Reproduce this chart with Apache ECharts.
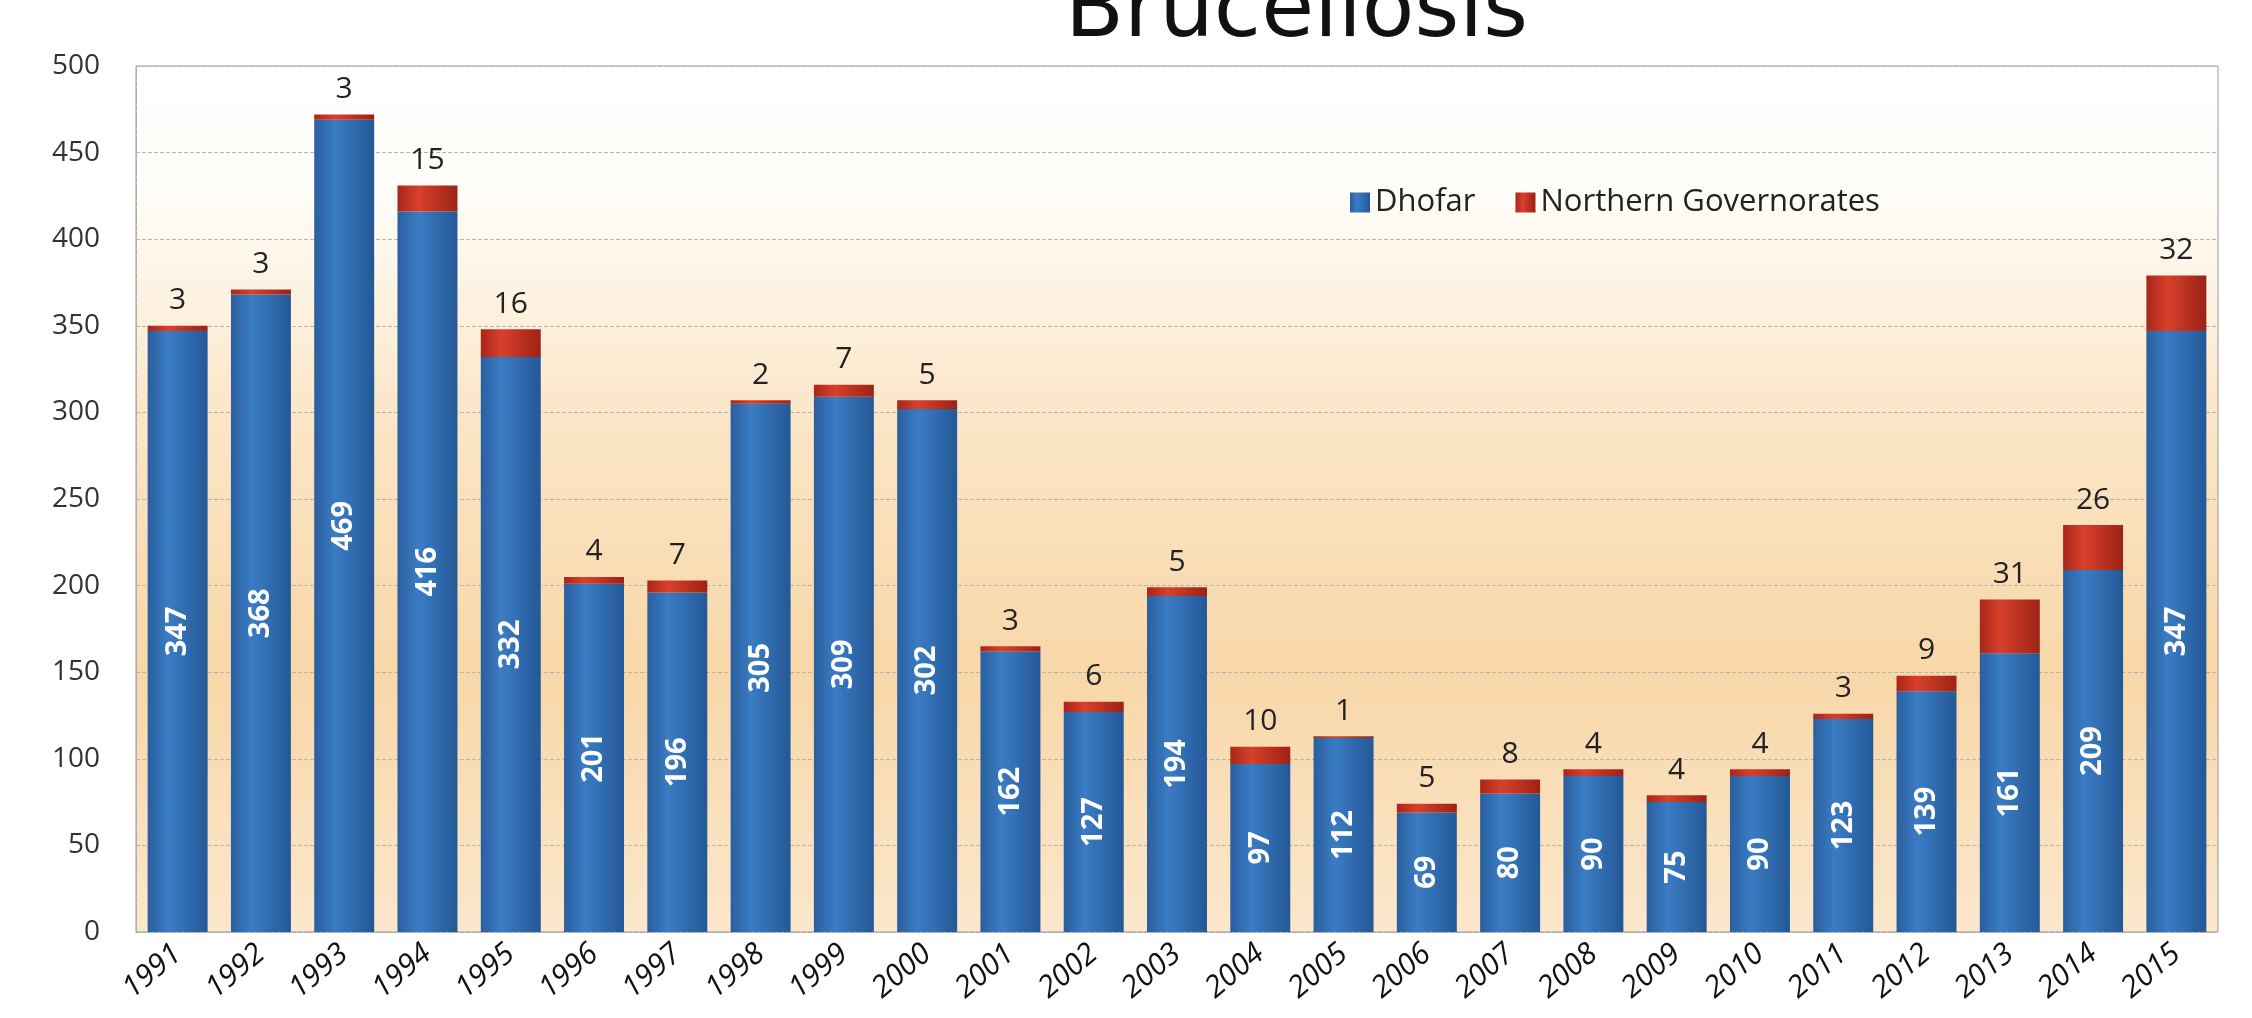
<!DOCTYPE html>
<html>
<head>
<meta charset="utf-8">
<title>Brucellosis</title>
<script src="https://cdn.jsdelivr.net/npm/echarts@6/dist/echarts.min.js"></script>
<style>
  html, body { margin: 0; padding: 0; background: #fff; }
  #main { width: 2252px; height: 1018px; }
</style>
</head>
<body>
<div id="main"></div>
<script>
// data
var years = ['1991','1992','1993','1994','1995','1996','1997','1998','1999','2000','2001','2002','2003',
             '2004','2005','2006','2007','2008','2009','2010','2011','2012','2013','2014','2015'];
var dhofar = [347, 368, 469, 416, 332, 201, 196, 305, 309, 302, 162, 127, 194,
              97, 112, 69, 80, 90, 75, 90, 123, 139, 161, 209, 347];
var northern = [3, 3, 3, 15, 16, 4, 7, 2, 7, 5, 3, 6, 5,
                10, 1, 5, 8, 4, 4, 4, 3, 9, 31, 26, 32];
var yTicks = [0, 50, 100, 150, 200, 250, 300, 350, 400, 450, 500];

var myChart = echarts.init(document.getElementById('main'));

var blue = new echarts.graphic.LinearGradient(0, 0, 1, 0, [
    {offset: 0, color: '#2a5f9e'},
    {offset: 0.35, color: '#3a7cc4'},
    {offset: 1, color: '#245896'}
]);
var red = new echarts.graphic.LinearGradient(0, 0, 1, 0, [
    {offset: 0, color: '#a8261a'},
    {offset: 0.35, color: '#d8402a'},
    {offset: 1, color: '#9c2216'}
]);

var option = {
    backgroundColor: '#ffffff',
    textStyle: { fontFamily: 'Open Sans, DejaVu Sans, sans-serif' },
    title: {
        text: 'Brucellosis',
        left: 1060,
        top: -34,
        textStyle: { fontSize: 86, fontWeight: 'normal', color: '#111', fontFamily: 'DejaVu Sans' }
    },
    legend: {
        data: ['Dhofar', 'Northern Governorates'],
        left: 1345,
        top: 182,
        itemWidth: 20,
        itemHeight: 20,
        itemGap: 40,
        icon: 'rect',
        textStyle: { fontSize: 31, color: '#222', fontFamily: 'Open Sans' }
    },
    grid: {
        left: 136,
        right: 34,
        top: 66,
        bottom: 86,
        show: true,
        borderColor: '#9a9a9a',
        borderWidth: 1,
        backgroundColor: new echarts.graphic.LinearGradient(0, 0, 0, 1, [
            {offset: 0, color: '#ffffff'},
            {offset: 0.15, color: '#fffdf8'},
            {offset: 0.4, color: '#fbe6c8'},
            {offset: 0.7, color: '#f8d7a8'},
            {offset: 1, color: '#fbe7cc'}
        ])
    },
    xAxis: {
        type: 'category',
        data: years,
        axisLine: { show: true, lineStyle: { color: '#aaa', type: 'dashed' } },
        axisTick: { show: false },
        axisLabel: {
            rotate: 40,
            fontSize: 30,
            fontStyle: 'italic',
            fontWeight: 500,
            color: '#111',
            margin: 18
        }
    },
    yAxis: {
        type: 'value',
        min: 0,
        max: 500,
        interval: 50,
        axisLine: { show: true, lineStyle: { color: '#aaa', type: 'dashed' } },
        axisTick: { show: false },
        axisLabel: {
            fontSize: 28,
            fontWeight: 500,
            color: '#333',
            margin: 36,
            formatter: function (v) { return yTicks.indexOf(v) >= 0 ? String(v) : ''; }
        },
        splitLine: { show: true, lineStyle: { color: '#b5b5b5', type: 'dashed', width: 1 } }
    },
    series: [
        {
            name: 'Dhofar',
            type: 'bar',
            stack: 'total',
            barCategoryGap: '28%',
            data: dhofar,
            itemStyle: { color: blue },
            label: {
                show: true,
                position: 'inside',
                rotate: 90,
                color: '#ffffff',
                fontSize: 29,
                fontWeight: 'bold'
            }
        },
        {
            name: 'Northern Governorates',
            type: 'bar',
            stack: 'total',
            data: northern,
            itemStyle: { color: red },
            label: {
                show: true,
                position: 'top',
                color: '#222',
                fontSize: 30,
                fontWeight: 500,
                distance: 10
            }
        }
    ]
};
myChart.setOption(option);
</script>
</body>
</html>
